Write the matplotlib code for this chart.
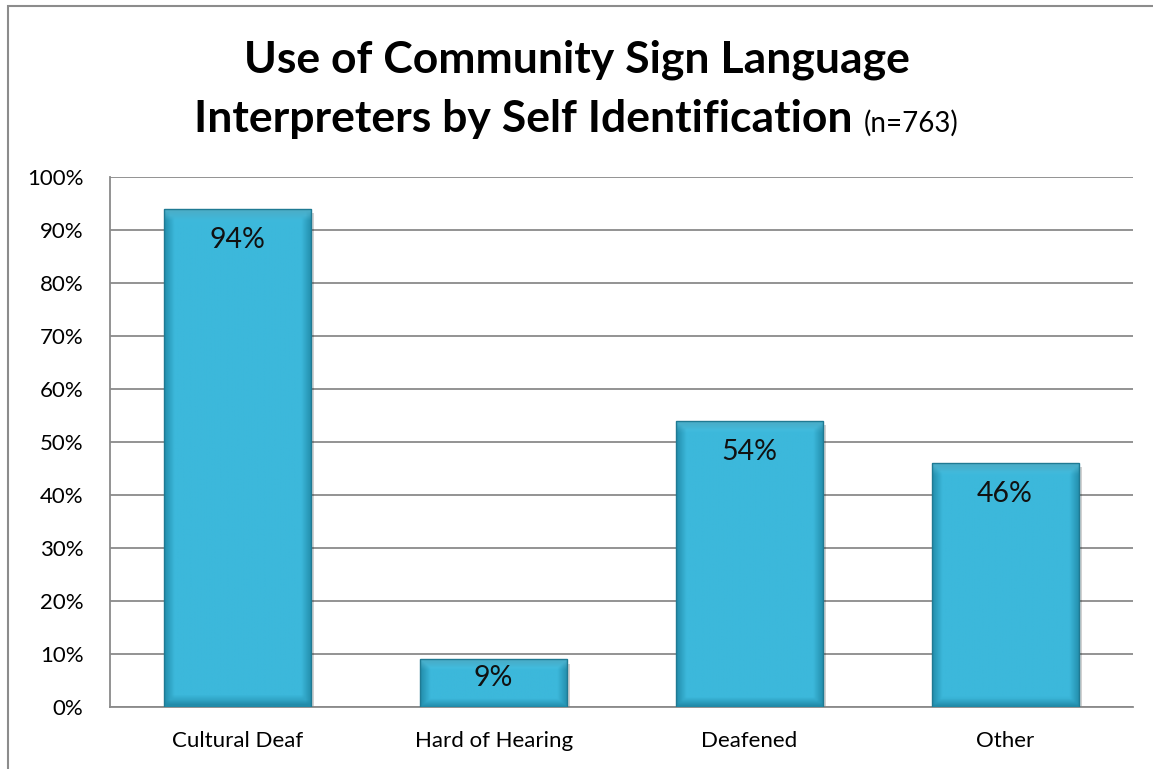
import matplotlib
matplotlib.use("Agg")
import matplotlib.pyplot as plt
import numpy as np
from matplotlib.patches import Rectangle
from matplotlib.ticker import FuncFormatter, MultipleLocator

plt.rcParams['font.family'] = ['Lato', 'DejaVu Sans']

categories = ["Cultural Deaf", "Hard of Hearing", "Deafened", "Other"]
values = [94, 9, 54, 46]
bar_labels = ["94%", "9%", "54%", "46%"]

fig = plt.figure(figsize=(11.53, 7.69), dpi=100)

# outer chart frame
frame = Rectangle((8 / 1153, -0.01), 1.2, 1 - 6 / 769 + 0.01, transform=fig.transFigure,
                  fill=False, edgecolor="#8c8c8c", linewidth=1.5, zorder=0)
fig.patches.append(frame)

ax = fig.add_axes([110 / 1153, 1 - 707 / 769, (1133 - 110) / 1153, (707 - 177) / 769])
ax.set_xlim(-0.5, len(categories) - 0.5)
ax.set_ylim(0, 100)
ax.yaxis.set_major_locator(MultipleLocator(10))
ax.yaxis.set_major_formatter(FuncFormatter(lambda v, p: f"{int(v)}%"))
ax.grid(axis="y", color="#8a8a8a", linewidth=1.3)
ax.set_axisbelow(True)
for s in ["top", "right"]:
    ax.spines[s].set_visible(False)
for s in ["left", "bottom"]:
    ax.spines[s].set_color("#8a8a8a")
    ax.spines[s].set_linewidth(1.3)
ax.tick_params(axis="y", length=0, labelsize=16, pad=19)
ax.tick_params(axis="x", length=0, labelsize=16, pad=17)
ax.set_xticks(range(len(categories)))
ax.set_xticklabels(categories)

width = 0.575
# horizontal shading across each bar: bevelled glassy look
nx = 200
xs = np.linspace(0, 1, nx)
edge = np.clip(np.minimum(xs, 1 - xs) / 0.07, 0, 1)
base = np.array([0x3c, 0xb8, 0xdb]) / 255.0
dark = np.array([0x22, 0x8c, 0xaa]) / 255.0
for i, v in enumerate(values):
    x0 = i - width / 2
    # soft shadow
    ax.add_patch(Rectangle((x0 + 0.012, -0.8), width, v, facecolor="#000000", alpha=0.18,
                           edgecolor="none", zorder=2))
    ny = 100
    ys = np.linspace(0, 1, ny)[:, None]
    vert = np.clip(np.minimum(ys * v / 1.6, (1 - ys) * v / 1.6), 0, 1)
    shade = np.minimum(edge[None, :], vert)
    top_glow = np.clip(1 - (1 - ys) * v / 2.0, 0, 1) * 0.35
    img = dark[None, None, :] * (1 - shade[..., None]) + base[None, None, :] * shade[..., None]
    img = img + top_glow[..., None] * (np.array([0.6, 0.92, 1.0]) - img)
    img = np.clip(img, 0, 1)
    im = ax.imshow(img, extent=(x0, x0 + width, 0, v), origin="lower", aspect="auto",
                   interpolation="bilinear", zorder=3)
    rect = Rectangle((x0, 0), width, v, facecolor="none", edgecolor="#1f7a93",
                     linewidth=1.0, zorder=4)
    ax.add_patch(rect)
    im.set_clip_path(rect)
    ax.text(i, max(v - 5.9, v * 0.6), bar_labels[i], ha="center", va="center",
            fontsize=20.5, color="#111111", zorder=5)

ax.set_xlim(-0.5, len(categories) - 0.5)
ax.set_ylim(0, 100)

fig.text(0.5, 1 - 60 / 769, "Use of Community Sign Language", ha="center", va="center",
         fontsize=32, fontweight="bold")
# second title line with the smaller sample size note
t1 = fig.text(0, 0, "Interpreters by Self Identification ", fontsize=32, fontweight="bold")
t2 = fig.text(0, 0, "(n=763)", fontsize=20)
fig.canvas.draw()
r = fig.canvas.get_renderer()
w1 = t1.get_window_extent(r).width
w2 = t2.get_window_extent(r).width
W = fig.bbox.width
start = (W - (w1 + w2)) / 2
t1.set_position((start / W, 1 - 132 / 769))
t2.set_position(((start + w1) / W, 1 - 132 / 769))

fig.savefig("out.png", dpi=100)
